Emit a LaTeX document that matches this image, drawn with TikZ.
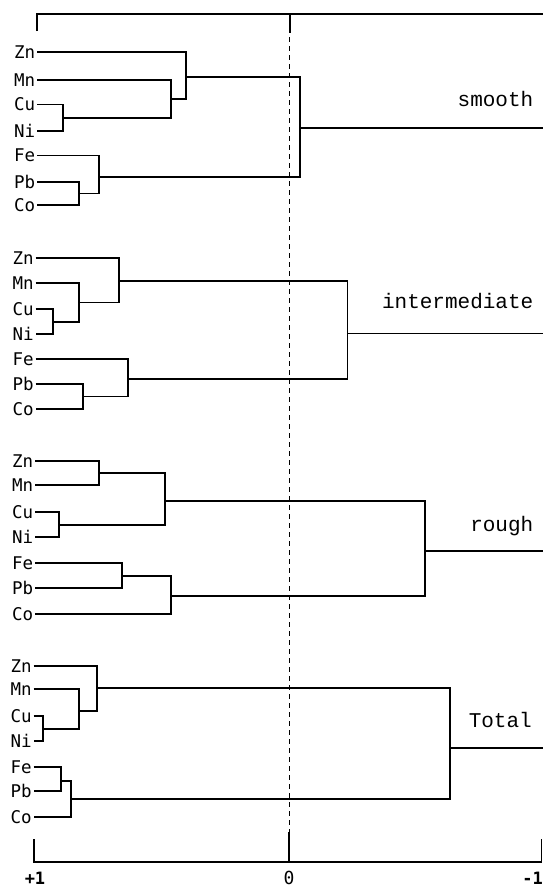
\documentclass[tikz,border=0pt]{standalone}
\usepackage{fontspec}
\newfontfamily\elfont{DejaVu Sans Mono}
\newfontfamily\grpfont{Liberation Mono}
\begin{document}
\begin{tikzpicture}[x=1pt,y=-1pt,
  el/.style={font=\elfont\fontsize{17.5}{17.5}\selectfont, anchor=east, inner xsep=1.6pt, inner ysep=0pt, text height=12.7pt, text depth=0pt},
  grp/.style={font=\grpfont\fontsize{21}{21}\selectfont, anchor=base east, inner sep=0pt},
  ax/.style={font=\elfont\bfseries\fontsize{17}{17}\selectfont, anchor=base, inner sep=0pt},
  axz/.style={font=\elfont\fontsize{18}{18}\selectfont, anchor=base, inner sep=0pt},
  link/.style={line width=1.8pt, line join=miter},
  frame/.style={line width=1.5pt},
  dashline/.style={line width=1pt, dash pattern=on 5pt off 4pt}]
\useasboundingbox (0,0) rectangle (543,887);

% frame and axis
\coordinate (fL) at (37,14);
\coordinate (fLt) at (37,31);
\coordinate (fR) at (543,14);
\coordinate (fM) at (290,14);
\coordinate (fMt) at (290,33);
\coordinate (dTop) at (289.5,37);
\coordinate (dBot) at (289.5,832);
\coordinate (aL) at (34,862);
\coordinate (aLt) at (34,839);
\coordinate (aM) at (289,862);
\coordinate (aMt) at (289,832);
\coordinate (aR) at (541.5,862);
\coordinate (aRt) at (541.5,839);
\draw[frame] (fLt) -- (fL) -- (fR);
\draw[frame] (fM) -- (fMt);
\draw[dashline] (dTop) -- (dBot);
\draw[frame] (aLt) -- (aL) -- (aR) -- (aRt);
\draw[frame] (aM) -- (aMt);
\node[ax] (p1) at (35,884) {+1};
\node[axz] (z0) at (289,884) {0};
\node[ax, anchor=base east] (m1) at (543,884) {-1};

% ---------- smooth ----------
\node[el] (sZn) at (37,52.3) {Zn};
\node[el] (sMn) at (37,80) {Mn};
\node[el] (sCu) at (37,104.5) {Cu};
\node[el] (sNi) at (37,131) {Ni};
\node[el] (sFe) at (37,155.5) {Fe};
\node[el] (sPb) at (37,182) {Pb};
\node[el] (sCo) at (37,205) {Co};
\coordinate (sCuNi) at (63,117.7);
\coordinate (sMnCuNi) at (171,98.8);
\coordinate (sA) at (186,77);
\coordinate (sPbCo) at (79,193.5);
\coordinate (sB) at (99,177);
\coordinate (sTop) at (300,128);
\coordinate (sEnd) at (543,128);
\draw[link] (sCu) -| (sCuNi) |- (sNi);
\draw[link] (sMn) -| (sMnCuNi) |- (sCuNi);
\draw[link] (sZn) -| (sA) |- (sMnCuNi);
\draw[link] (sPb) -| (sPbCo) |- (sCo);
\draw[link] (sFe) -| (sB) |- (sPbCo);
\draw[link] (sA) -| (sTop) |- (sB);
\draw[link] (sTop) -- (sEnd);
\node[grp] (gs) at (533.5,106) {smooth};

% ---------- intermediate ----------
\node[el] (iZn) at (35.5,257.7) {Zn};
\node[el] (iMn) at (35.5,282.7) {Mn};
\node[el] (iCu) at (35.5,309) {Cu};
\node[el] (iNi) at (35.5,334.3) {Ni};
\node[el] (iFe) at (35.5,359) {Fe};
\node[el] (iPb) at (35.5,384) {Pb};
\node[el] (iCo) at (35.5,409) {Co};
\coordinate (iCuNi) at (53,321.7);
\coordinate (iMnCuNi) at (79,302.5);
\coordinate (iA) at (119,280.7);
\coordinate (iPbCo) at (83,396.5);
\coordinate (iB) at (128,379);
\coordinate (iTop) at (347.5,333.5);
\coordinate (iEnd) at (543,333.5);
\draw[link] (iCu) -| (iCuNi) |- (iNi);
\draw[link] (iMn) -| (iMnCuNi) |- (iCuNi);
\draw[link] (iZn) -| (iA) |- (iMnCuNi);
\draw[link] (iPb) -| (iPbCo) |- (iCo);
\draw[link] (iFe) -| (iB) |- (iPbCo);
\draw[link] (iA) -| (iTop) |- (iB);
\draw[link] (iTop) -- (iEnd);
\node[grp] (gi) at (533.5,308) {intermediate};

% ---------- rough ----------
\node[el] (rZn) at (35,460.7) {Zn};
\node[el] (rMn) at (35,485) {Mn};
\node[el] (rCu) at (35,511.7) {Cu};
\node[el] (rNi) at (35,537) {Ni};
\node[el] (rFe) at (35,562.7) {Fe};
\node[el] (rPb) at (35,588) {Pb};
\node[el] (rCo) at (35,614) {Co};
\coordinate (rZnMn) at (99,473);
\coordinate (rCuNi) at (59,525);
\coordinate (rA) at (165,500.7);
\coordinate (rFePb) at (122,576);
\coordinate (rB) at (171,596);
\coordinate (rTop) at (425,551);
\coordinate (rEnd) at (543,551);
\draw[link] (rZn) -| (rZnMn) |- (rMn);
\draw[link] (rCu) -| (rCuNi) |- (rNi);
\draw[link] (rZnMn) -| (rA) |- (rCuNi);
\draw[link] (rFe) -| (rFePb) |- (rPb);
\draw[link] (rFePb) -| (rB) |- (rCo);
\draw[link] (rA) -| (rTop) |- (rB);
\draw[link] (rTop) -- (rEnd);
\node[grp] (gr) at (533.5,531) {rough};

% ---------- Total ----------
\node[el] (tZn) at (33.5,665.7) {Zn};
\node[el] (tMn) at (33.5,689) {Mn};
\node[el] (tCu) at (33.5,716) {Cu};
\node[el] (tNi) at (33.5,740.7) {Ni};
\node[el] (tFe) at (33.5,766.7) {Fe};
\node[el] (tPb) at (33.5,790.7) {Pb};
\node[el] (tCo) at (33.5,817.3) {Co};
\coordinate (tCuNi) at (43,729);
\coordinate (tMnCuNi) at (79,710.7);
\coordinate (tA) at (97,687.7);
\coordinate (tFePb) at (61,781);
\coordinate (tB) at (71,799);
\coordinate (tTop) at (450,747.7);
\coordinate (tEnd) at (543,747.7);
\draw[link] (tCu) -| (tCuNi) |- (tNi);
\draw[link] (tMn) -| (tMnCuNi) |- (tCuNi);
\draw[link] (tZn) -| (tA) |- (tMnCuNi);
\draw[link] (tFe) -| (tFePb) |- (tPb);
\draw[link] (tFePb) -| (tB) |- (tCo);
\draw[link] (tA) -| (tTop) |- (tB);
\draw[link] (tTop) -- (tEnd);
\node[grp] (gt) at (532,727) {Total};
\end{tikzpicture}
\end{document}
